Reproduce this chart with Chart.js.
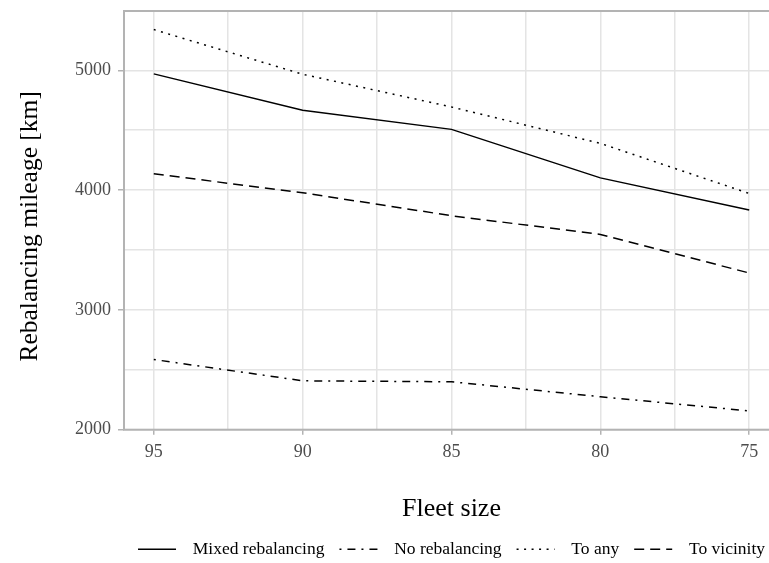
<!DOCTYPE html>
<html lang="en">
<head>
<meta charset="UTF-8">
<title>Rebalancing mileage by fleet size</title>
<style>
  html, body { margin: 0; padding: 0; background: #fff; overflow: hidden; }
</style>
</head>
<body>
<canvas id="mileageChart" width="780" height="568"></canvas>

<script src="https://cdn.jsdelivr.net/npm/chart.js"></script>
<script>
// values
const fleetSizes = [95, 90, 85, 80, 75];
const mixedRebalancing = [4970, 4666, 4507, 4102, 3833];
const noRebalancing = [2586, 2408, 2400, 2275, 2157];
const toAny = [5340, 4967, 4694, 4390, 3972];
const toVicinity = [4136, 3978, 3786, 3630, 3308];
const seriesNames = ['Mixed rebalancing', 'No rebalancing', 'To any', 'To vicinity'];

// grid positions (major + minor) and which of them get a label
const xGridValues = [95, 92.5, 90, 87.5, 85, 82.5, 80, 77.5, 75];
const yGridValues = [2000, 2500, 3000, 3500, 4000, 4500, 5000];
const yTickLabels = [2000, 3000, 4000, 5000];

const FONT = '"Liberation Serif", "Times New Roman", serif';
const GRID = '#e4e4e4';
const FRAME = '#b3b3b3';
const SAMPLE_LEN = 38;
const Y_TITLE = 'Rebalancing mileage [km]';

const toPoints = values => fleetSizes.map((f, i) => ({ x: f, y: values[i] }));

const makeSeries = (label, values, dash) => ({
    label,
    data: toPoints(values),
    borderColor: '#000',
    backgroundColor: '#000',
    borderWidth: 1.5,
    borderDash: dash,
    borderCapStyle: 'butt',
    pointRadius: 0,
    tension: 0,
    fill: false
});

// frame around the panel
const panelBorder = {
    id: 'panelBorder',
    beforeDatasetsDraw(chart) {
        const { ctx, chartArea: a } = chart;
        ctx.save();
        ctx.strokeStyle = FRAME;
        ctx.lineWidth = 2;
        ctx.strokeRect(a.left, a.top, a.right - a.left, a.bottom - a.top);
        ctx.restore();
    }
};

// y title, placed a little below the panel centre as in the reference
const yTitle = {
    id: 'yTitle',
    afterDraw(chart) {
        const { ctx, chartArea: a } = chart;
        ctx.save();
        ctx.translate(30, (a.top + a.bottom) / 2 + 6);
        ctx.rotate(-Math.PI / 2);
        ctx.font = '25.5px ' + FONT;
        ctx.fillStyle = '#000';
        ctx.textAlign = 'center';
        ctx.textBaseline = 'middle';
        ctx.fillText(Y_TITLE, 0, 0);
        ctx.restore();
    }
};

// legend keys drawn as short dashed lines
const legendSamples = {
    id: 'legendSamples',
    afterDraw(chart) {
        const legend = chart.legend;
        const { ctx } = chart;
        legend.legendItems.forEach((item, i) => {
            const box = legend.legendHitBoxes[i];
            const ds = chart.data.datasets[item.datasetIndex];
            const y = box.top + box.height / 2;
            ctx.save();
            ctx.strokeStyle = '#000';
            ctx.lineWidth = 1.5;
            ctx.setLineDash(ds.borderDash);
            ctx.beginPath();
            ctx.moveTo(box.left + 1, y);
            ctx.lineTo(box.left + 1 + SAMPLE_LEN, y);
            ctx.stroke();
            ctx.restore();
        });
    }
};

const ctx = document.getElementById('mileageChart').getContext('2d');

new Chart(ctx, {
    type: 'line',
    data: {
        datasets: [
            makeSeries(seriesNames[0], mixedRebalancing, []),
            makeSeries(seriesNames[1], noRebalancing, [2, 6, 8, 6]),
            makeSeries(seriesNames[2], toAny, [2, 5.5]),
            makeSeries(seriesNames[3], toVicinity, [10, 6])
        ]
    },
    options: {
        responsive: false,
        animation: false,
        layout: { padding: { top: 11, right: 1, left: 0, bottom: 0 } },
        plugins: {
            tooltip: { enabled: false },
            legend: {
                position: 'bottom',
                align: 'end',
                labels: {
                    usePointStyle: true,
                    pointStyle: 'line',
                    pointStyleWidth: 47,
                    color: '#000',
                    padding: 14,
                    font: { family: FONT, size: 17.5 },
                    generateLabels: chart => Chart.defaults.plugins.legend.labels.generateLabels(chart)
                        .map(item => Object.assign(item, { strokeStyle: 'rgba(0,0,0,0)', fillStyle: 'rgba(0,0,0,0)' }))
                }
            }
        },
        scales: {
            x: {
                type: 'linear',
                reverse: true,
                min: 74,
                max: 96,
                border: { display: false },
                afterBuildTicks: scale => { scale.ticks = xGridValues.map(v => ({ value: v })); },
                grid: {
                    color: GRID,
                    lineWidth: 1.5,
                    tickLength: 5,
                    tickColor: c => (c.tick && fleetSizes.includes(c.tick.value)) ? FRAME : 'rgba(0,0,0,0)'
                },
                ticks: {
                    maxRotation: 0,
                    autoSkip: false,
                    padding: 7,
                    color: '#4d4d4d',
                    font: { family: FONT, size: 18 },
                    callback: v => (fleetSizes.includes(v) ? String(v) : '')
                },
                title: {
                    display: true,
                    text: 'Fleet size',
                    color: '#000',
                    font: { family: FONT, size: 26 },
                    padding: { top: 23, bottom: 2 }
                }
            },
            y: {
                min: 2000,
                max: 5495,
                border: { display: false },
                afterFit: scale => {
                    scale.width = 124;
                    scale.paddingTop = 0;
                    scale.paddingBottom = 0;
                },
                afterBuildTicks: scale => { scale.ticks = yGridValues.map(v => ({ value: v })); },
                grid: {
                    color: GRID,
                    lineWidth: 1.5,
                    tickLength: 6,
                    tickColor: c => (c.tick && yTickLabels.includes(c.tick.value)) ? FRAME : 'rgba(0,0,0,0)'
                },
                ticks: {
                    autoSkip: false,
                    padding: 7,
                    color: '#4d4d4d',
                    font: { family: FONT, size: 18 },
                    callback: v => (yTickLabels.includes(v) ? String(v) : '')
                },
                title: { display: false }
            }
        }
    },
    plugins: [panelBorder, yTitle, legendSamples]
});
</script>
</body>
</html>
